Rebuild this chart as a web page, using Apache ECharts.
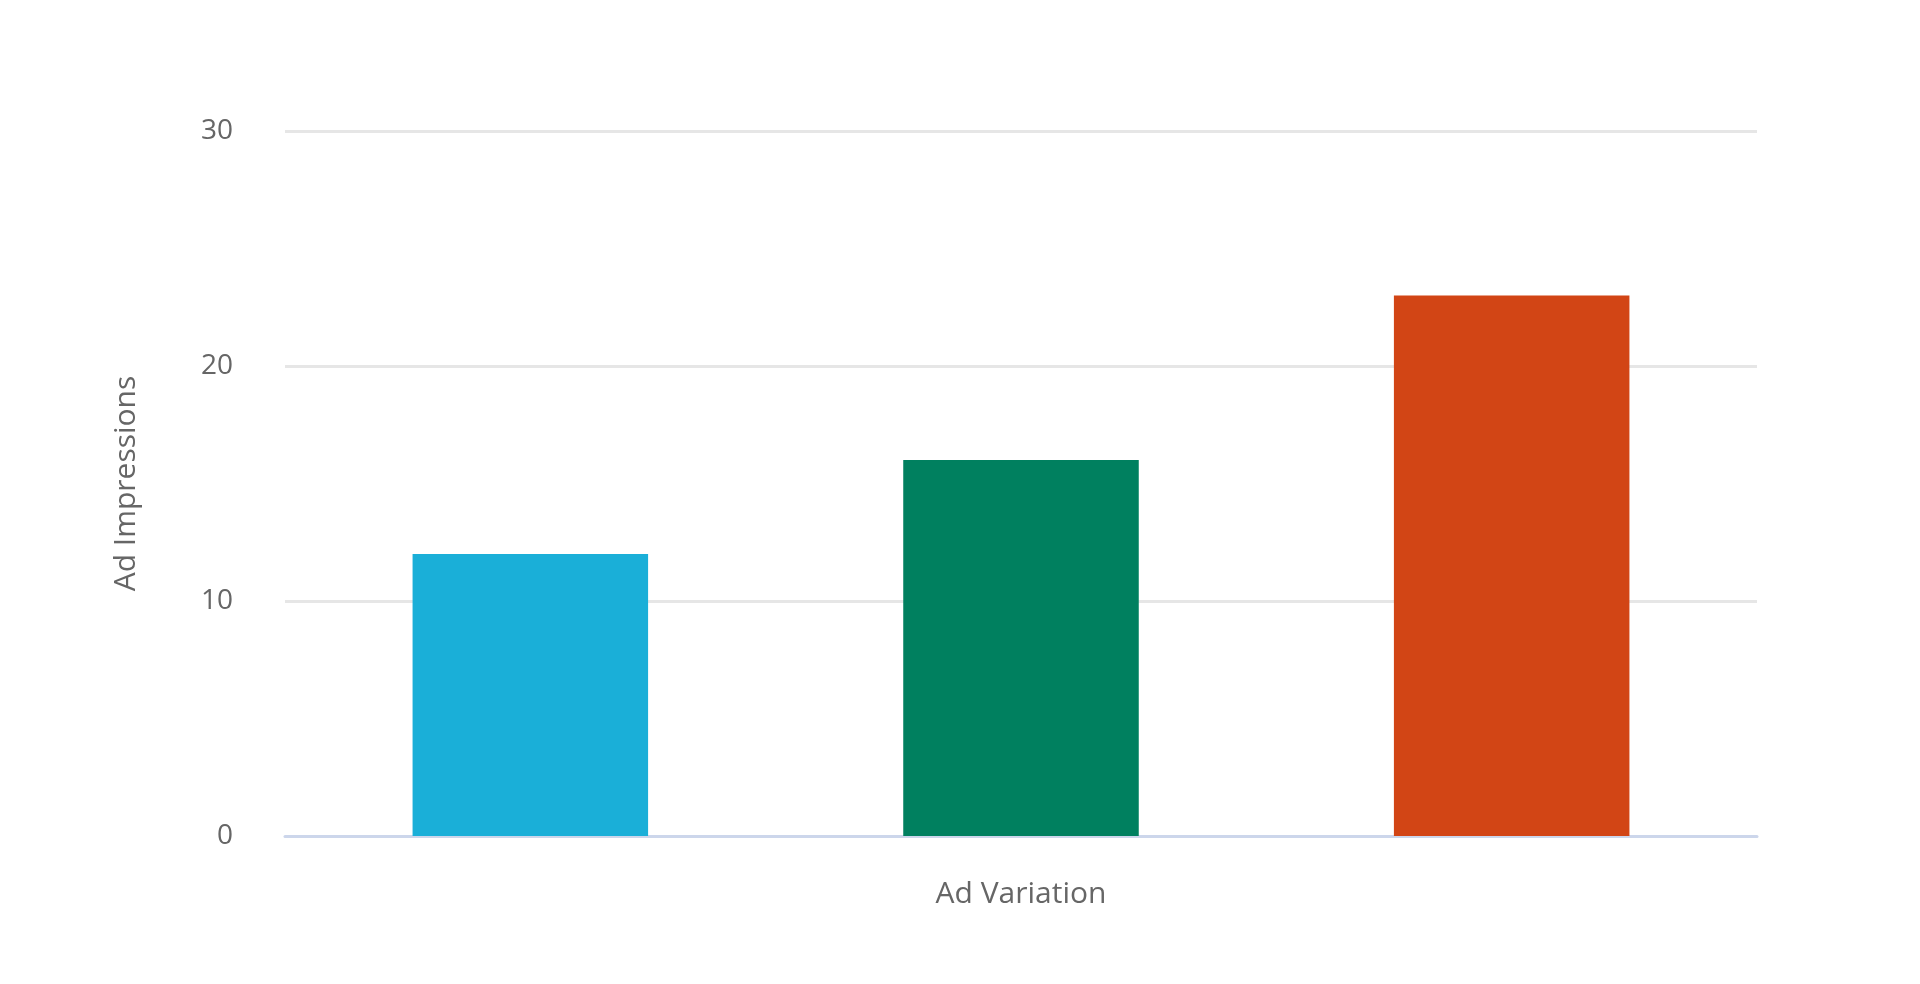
<!DOCTYPE html>
<html><head><meta charset="utf-8">
<script src="https://cdn.jsdelivr.net/npm/echarts@6/dist/echarts.min.js"></script>
<style>html,body{margin:0;padding:0;background:#fff}#c{width:1920px;height:984px}</style>
</head><body><div id="c"></div>
<script>
const categories = ['Variation A', 'Variation B', 'Variation C'];
const impressions = [12, 16, 23];
const yTicks = [0, 10, 20, 30];
const barColors = ['#1AAFD8', '#00805F', '#D24515'];
const chart = echarts.init(document.getElementById('c'));
chart.setOption({
  backgroundColor: '#fff',
  textStyle: { fontFamily: 'Open Sans' },
  grid: { left: 285, right: 163, top: 131, bottom: 148 },
  xAxis: {
    type: 'category', data: categories,
    name: 'Ad Variation', nameLocation: 'middle', nameGap: 43,
    nameTextStyle: { fontSize: 30, color: '#666', fontFamily: 'Open Sans' },
    axisLine: { lineStyle: { color: '#ccd6eb', width: 3 } },
    axisTick: { show: false }, axisLabel: { show: false }
  },
  yAxis: {
    type: 'value', min: yTicks[0], max: yTicks[yTicks.length - 1], interval: 10,
    name: 'Ad Impressions', nameLocation: 'middle', nameGap: 144,
    nameTextStyle: { fontSize: 30, color: '#666', fontFamily: 'Open Sans' },
    axisLabel: { fontSize: 28, color: '#666', margin: 52, fontFamily: 'Open Sans' },
    splitLine: { lineStyle: { color: '#e6e6e6', width: 3 } },
    axisLine: { show: false }, axisTick: { show: false }
  },
  series: [{
    type: 'bar', barWidth: '48%',
    data: impressions.map((v, i) => ({ value: v, itemStyle: { color: barColors[i] } }))
  }]
});
</script></body></html>
